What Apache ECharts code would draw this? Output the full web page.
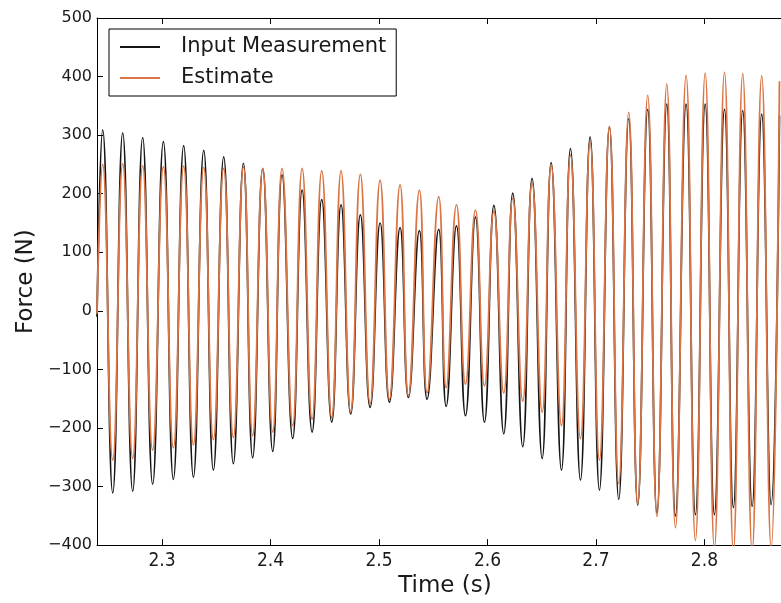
<!DOCTYPE html>
<html>
<head>
<meta charset="utf-8">
<script src="https://cdn.jsdelivr.net/npm/echarts@6/dist/echarts.min.js"></script>
<style>
  html, body { margin: 0; padding: 0; background: #ffffff; overflow: hidden; }
  #chart { width: 781px; height: 603px; }
</style>
</head>
<body>
<div id="chart"></div>
<script>
// ---- data ----
const seriesNames = ['Input Measurement', 'Estimate'];
const xTicks = [2.3, 2.4, 2.5, 2.6, 2.7, 2.8];
const yTicks = [-400, -300, -200, -100, 0, 100, 200, 300, 400, 500];

const startTime = 2.24;
const measStart = -10;
const estStart = -5;

// times (s) of the oscillation crests and troughs
const peakTimes = [2.2452, 2.2637, 2.2821, 2.3012, 2.3199, 2.3384, 2.3568, 2.3750, 2.3928, 2.4106,
  2.4291, 2.4472, 2.4650, 2.4828, 2.5010, 2.5194, 2.5372, 2.5550, 2.5714, 2.5889,
  2.6059, 2.6233, 2.6411, 2.6587, 2.6765, 2.6946, 2.7124, 2.7302, 2.7477, 2.7653,
  2.7831, 2.8007, 2.8185, 2.8353, 2.8528, 2.8692];
const troughTimes = [2.2545, 2.2729, 2.2913, 2.3104, 2.3289, 2.3473, 2.3657, 2.3835, 2.4020, 2.4204,
  2.4383, 2.4564, 2.4739, 2.4918, 2.5096, 2.5271, 2.5443, 2.5619, 2.5797, 2.5972,
  2.6150, 2.6325, 2.6504, 2.6682, 2.6857, 2.7032, 2.7210, 2.7385, 2.7562, 2.7733,
  2.7917, 2.8092, 2.8267, 2.8440, 2.8615];

// Input Measurement (N)
const measPeaks = [309, 304, 296, 289, 282, 274, 263, 252, 243, 232,
  206, 190, 181, 164, 150, 142, 137, 139, 145, 160,
  180, 201, 226, 253, 277, 297, 314, 328, 344, 353,
  353, 353, 344, 342, 336, 333];
const measTroughs = [-311, -308, -296, -288, -284, -272, -261, -251, -240, -218,
  -207, -190, -176, -165, -156, -148, -151, -163, -179, -190,
  -210, -232, -252, -272, -289, -306, -322, -332, -345, -350,
  -348, -348, -336, -334, -331];

// Estimate (N)
const estPeaks = [250, 251, 248, 246, 247, 245, 243, 246, 243, 243,
  243, 239, 239, 233, 223, 215, 206, 195, 181, 172,
  170, 192, 218, 249, 266, 288, 315, 339, 368, 387,
  402, 406, 407, 405, 401, 392];
const estTroughs = [-255, -252, -238, -234, -229, -220, -216, -213, -207, -196,
  -185, -182, -173, -159, -151, -145, -140, -131, -125, -128,
  -140, -154, -173, -196, -218, -255, -295, -330, -351, -370,
  -392, -405, -410, -410, -405];

function buildSeries(startVal, peaks, troughs) {
  const pts = [[startTime, startVal]];
  for (let i = 0; i < peakTimes.length; i++) {
    pts.push([peakTimes[i], peaks[i]]);
    if (i < troughTimes.length) pts.push([troughTimes[i], troughs[i]]);
  }
  return pts;
}

const FONT = 'DejaVu Sans';
const xMin = 2.24, xMax = 2.8706;
const fmtX = v => {
  const hit = xTicks.find(t => Math.abs(t - v) < 1e-6);
  return hit === undefined ? '' : hit.toFixed(1);
};
const fmtY = v => {
  const hit = yTicks.find(t => Math.abs(t - v) < 1e-6);
  return hit === undefined ? '' : String(hit).replace('-', '\u2212');
};

const chart = echarts.init(document.getElementById('chart'), null, { renderer: 'canvas', width: 781, height: 603 });
chart.setOption({
  animation: false,
  backgroundColor: '#ffffff',
  textStyle: { fontFamily: FONT, color: '#000' },
  grid: { left: 97, top: 18, width: 684, height: 533, containLabel: false },
  legend: {
    orient: 'vertical',
    left: 109, top: 29,
    padding: [6, 10, 6, 11],
    itemGap: 7,
    icon: 'rect',
    itemWidth: 40, itemHeight: 2,
    borderColor: '#000', borderWidth: 1,
    backgroundColor: '#fff',
    textStyle: { fontFamily: FONT, fontSize: 21, color: '#1a1a1a', lineHeight: 24, padding: [0, 0, 0, 16] },
    data: seriesNames
  },
  xAxis: [{
    type: 'value', position: 'bottom',
    min: xMin, max: xMax, splitNumber: 6,
    name: 'Time (s)', nameLocation: 'middle', nameGap: 27,
    nameTextStyle: { fontFamily: FONT, fontSize: 23, color: '#1a1a1a', padding: [0, 0, 0, 12] },
    axisLine: { show: true, onZero: false, lineStyle: { color: '#000', width: 1 } },
    axisTick: { show: true, inside: true, length: 6, lineStyle: { color: '#000' } },
    axisLabel: { show: true, showMinLabel: false, showMaxLabel: false, margin: 6, fontFamily: 'DejaVu Sans Condensed, DejaVu Sans', fontSize: 19, color: '#1a1a1a', formatter: fmtX },
    splitLine: { show: false }
  }, {
    type: 'value', position: 'top',
    min: xMin, max: xMax, splitNumber: 6,
    axisLine: { show: true, onZero: false, lineStyle: { color: '#000', width: 1 } },
    axisTick: { show: true, inside: true, length: 6, lineStyle: { color: '#000' } },
    axisLabel: { show: false },
    splitLine: { show: false }
  }],
  yAxis: [{
    type: 'value',
    min: -400, max: 500, interval: 100,
    name: 'Force (N)', nameLocation: 'middle', nameGap: 58,
    nameTextStyle: { fontFamily: FONT, fontSize: 23, color: '#1a1a1a' },
    axisLine: { show: true, onZero: false, lineStyle: { color: '#000', width: 1 } },
    axisTick: { show: true, inside: true, length: 6, lineStyle: { color: '#000' } },
    axisLabel: { margin: 5, fontFamily: FONT, fontSize: 16, color: '#1a1a1a', formatter: fmtY },
    splitLine: { show: false }
  }],
  series: [{
    name: seriesNames[0], type: 'line',
    data: buildSeries(measStart, measPeaks, measTroughs),
    smooth: 0.5, symbol: 'none', clip: true,
    lineStyle: { color: '#151515', width: 1.7 },
    itemStyle: { color: '#151515' },
    z: 2
  }, {
    name: seriesNames[1], type: 'line',
    data: buildSeries(estStart, estPeaks, estTroughs),
    smooth: 0.5, symbol: 'none', clip: true,
    lineStyle: { color: '#da7545', width: 1.8 },
    itemStyle: { color: '#da7545' },
    z: 3
  }]
});
</script>
</body>
</html>
